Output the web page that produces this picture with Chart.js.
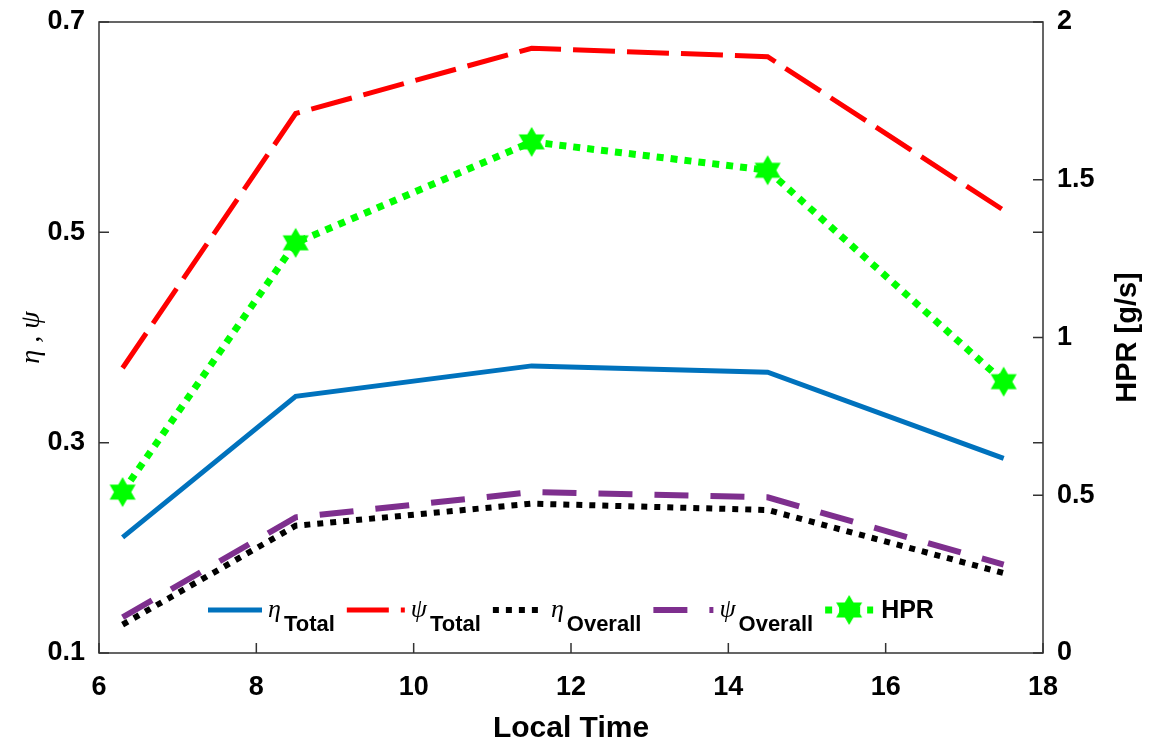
<!DOCTYPE html>
<html lang="en">
<head>
  <meta charset="UTF-8" />
  <title>HPR and efficiency vs local time</title>
  <script src="https://cdn.jsdelivr.net/npm/chart.js"></script>
  <style>
    body { margin: 0; background: #fff; }
    .wrap { position: relative; width: 1154px; height: 747px; }
  </style>
</head>
<body>
<div class="wrap">
  <canvas id="grafico"></canvas>
</div>

<script>
  // data
  const localTime  = [6.3, 8.5, 11.5, 14.5, 17.5];
  const etaTotal   = [0.210, 0.344, 0.373, 0.367, 0.285];
  const psiTotal   = [0.371, 0.613, 0.675, 0.667, 0.521];
  const etaOverall = [0.127, 0.221, 0.242, 0.236, 0.176];
  const psiOverall = [0.134, 0.229, 0.253, 0.248, 0.184];
  const hpr        = [0.51, 1.30, 1.62, 1.53, 0.86];

  const xTicks     = [6, 8, 10, 12, 14, 16, 18];
  const leftTicks  = [0.1, 0.3, 0.5, 0.7];
  const rightTicks = [0, 0.5, 1, 1.5, 2];

  const legendSym = ['η', 'ψ', 'η', 'ψ', ''];
  const legendSub = ['Total', 'Total', 'Overall', 'Overall', 'HPR'];
  const rightTitle = 'HPR [g/s]';

  const pts = (ys) => localTime.map((x, i) => ({ x: x, y: ys[i] }));

  // six pointed star marker
  function makeStar(r, color) {
    const c = document.createElement('canvas');
    const s = Math.ceil(r * 2 + 2);
    c.width = s; c.height = s;
    const g = c.getContext('2d');
    g.fillStyle = color;
    g.beginPath();
    for (let i = 0; i < 12; i++) {
      const a = -Math.PI / 2 + i * Math.PI / 6;
      const rr = i % 2 === 0 ? r : r / Math.sqrt(3);
      g.lineTo(s / 2 + rr * Math.cos(a), s / 2 + rr * Math.sin(a));
    }
    g.closePath();
    g.fill();
    return c;
  }
  const star = makeStar(15, '#00ff00');

  const sans = '"Liberation Sans", Arial, sans-serif';
  const serif = '"Liberation Serif", "DejaVu Serif", serif';

  // fixed axis sizes so the plot box lands where the figure has it
  function fijar(size) {
    return s => {
      if (s.isHorizontal()) s.height = size; else s.width = size;
      s.paddingTop = 0; s.paddingBottom = 0;
      s.paddingLeft = 0; s.paddingRight = 0;
    };
  }

  // box + inward tick marks, MATLAB style
  const ejes = {
    id: 'ejes',
    afterDatasetsDraw(chart) {
      const { ctx, chartArea: a, scales } = chart;
      ctx.save();
      ctx.strokeStyle = '#333';
      ctx.lineWidth = 1.5;
      ctx.setLineDash([]);
      ctx.strokeRect(a.left, a.top, a.right - a.left, a.bottom - a.top);
      const L = 10;
      ctx.beginPath();
      scales.x.ticks.forEach(t => {
        const px = scales.x.getPixelForValue(t.value);
        ctx.moveTo(px, a.bottom); ctx.lineTo(px, a.bottom - L);
      });
      scales.y.ticks.forEach(t => {
        const py = scales.y.getPixelForValue(t.value);
        ctx.moveTo(a.left, py); ctx.lineTo(a.left + L, py);
        ctx.moveTo(a.right, py); ctx.lineTo(a.right - L, py);
      });
      scales.y2.ticks.forEach(t => {
        const py = scales.y2.getPixelForValue(t.value);
        ctx.moveTo(a.right, py); ctx.lineTo(a.right - L, py);
      });
      ctx.stroke();

      // right axis title reads bottom to top, like the left one
      ctx.fillStyle = '#000';
      ctx.font = 'bold 29px ' + sans;
      ctx.textAlign = 'center';
      ctx.textBaseline = 'middle';
      ctx.translate(1128, (a.top + a.bottom) / 2);
      ctx.rotate(-Math.PI / 2);
      ctx.fillText(rightTitle, 0, 0);
      ctx.restore();
    }
  };

  // legend with subscripts, drawn inside the axes
  const leyenda = {
    id: 'leyenda',
    afterDraw(chart) {
      const { ctx } = chart;
      const ds = chart.data.datasets;
      const y = 610;
      const sampleLen = [54, 58, 52, 60, 48];
      let x = 208;
      ctx.save();
      ds.forEach((d, i) => {
        ctx.strokeStyle = d.borderColor;
        ctx.lineWidth = d.borderWidth;
        ctx.lineCap = 'butt';
        ctx.setLineDash(d.borderDash || []);
        ctx.beginPath();
        ctx.moveTo(x, y); ctx.lineTo(x + sampleLen[i], y);
        ctx.stroke();
        ctx.setLineDash([]);
        if (i === 4) ctx.drawImage(star, x + sampleLen[i] / 2 - star.width / 2, y - star.height / 2);
        x += sampleLen[i] + 6;
        ctx.fillStyle = '#000';
        if (legendSym[i]) {
          ctx.font = 'italic 26px ' + serif;
          ctx.textBaseline = 'middle';
          ctx.fillText(legendSym[i], x, y);
          x += ctx.measureText(legendSym[i]).width + 3;
          ctx.font = 'bold 22px ' + sans;
          ctx.textBaseline = 'alphabetic';
          ctx.fillText(legendSub[i], x, y + 21);
          x += ctx.measureText(legendSub[i]).width + 12;
        } else {
          ctx.font = 'bold 25px ' + sans;
          ctx.textBaseline = 'middle';
          ctx.fillText(legendSub[i], x + 2, y + 1);
        }
      });
      ctx.restore();
    }
  };

  const ctx = document.getElementById('grafico').getContext('2d');
  const grafico = new Chart(ctx, {
    type: 'line',
    data: {
      datasets: [
        { label: 'ηTotal', data: pts(etaTotal), yAxisID: 'y',
          borderColor: '#0072bd', borderWidth: 5, pointRadius: 0 },
        { label: 'ψTotal', data: pts(psiTotal), yAxisID: 'y',
          borderColor: '#ff0000', borderWidth: 5, borderDash: [42, 12], pointRadius: 0 },
        { label: 'ηOverall', data: pts(etaOverall), yAxisID: 'y',
          borderColor: '#000000', borderWidth: 6, borderDash: [6, 7], pointRadius: 0 },
        { label: 'ψOverall', data: pts(psiOverall), yAxisID: 'y',
          borderColor: '#7e2f8e', borderWidth: 6, borderDash: [34, 22], pointRadius: 0 },
        { label: 'HPR', data: pts(hpr), yAxisID: 'y2',
          borderColor: '#00ff00', borderWidth: 7, borderDash: [7, 7],
          pointStyle: star, pointRadius: 15, pointHoverRadius: 15 }
      ]
    },
    options: {
      responsive: true,
      maintainAspectRatio: false,
      animation: false,
      events: [],
      layout: { padding: { top: 21, left: 0, right: 0, bottom: 0 } },
      plugins: { legend: { display: false }, tooltip: { enabled: false } },
      elements: { line: { tension: 0, borderCapStyle: 'butt', borderJoinStyle: 'miter' } },
      scales: {
        x: {
          type: 'linear', min: 6, max: 18,
          afterBuildTicks: s => { s.ticks = xTicks.map(v => ({ value: v })); },
          afterFit: fijar(94),
          grid: { display: false, drawTicks: false },
          border: { display: false },
          ticks: { color: '#000', padding: 18, maxRotation: 0, autoSkip: false,
                   font: { family: sans, size: 27, weight: 'bold' },
                   callback: v => String(v) },
          title: { display: true, text: 'Local Time', color: '#000',
                   font: { family: sans, size: 30, weight: 'bold' }, padding: { top: 0, bottom: 0 } }
        },
        y: {
          position: 'left', min: 0.1, max: 0.7,
          afterBuildTicks: s => { s.ticks = leftTicks.map(v => ({ value: v })); },
          afterFit: fijar(99),
          grid: { display: false, drawTicks: false },
          border: { display: false },
          ticks: { color: '#000', padding: 14, autoSkip: false,
                   font: { family: sans, size: 27, weight: 'bold' },
                   callback: v => String(v) },
          title: { display: true, text: 'η , ψ', color: '#000',
                   font: { family: serif, size: 28, style: 'italic' }, padding: { top: 15 } }
        },
        y2: {
          position: 'right', min: 0, max: 2,
          afterBuildTicks: s => { s.ticks = rightTicks.map(v => ({ value: v })); },
          afterFit: fijar(111),
          grid: { display: false, drawTicks: false },
          border: { display: false },
          ticks: { color: '#000', padding: 14, autoSkip: false,
                   font: { family: sans, size: 27, weight: 'bold' },
                   callback: v => String(v) },
          title: { display: false }
        }
      }
    },
    plugins: [ejes, leyenda]
  });
</script>
</body>
</html>
